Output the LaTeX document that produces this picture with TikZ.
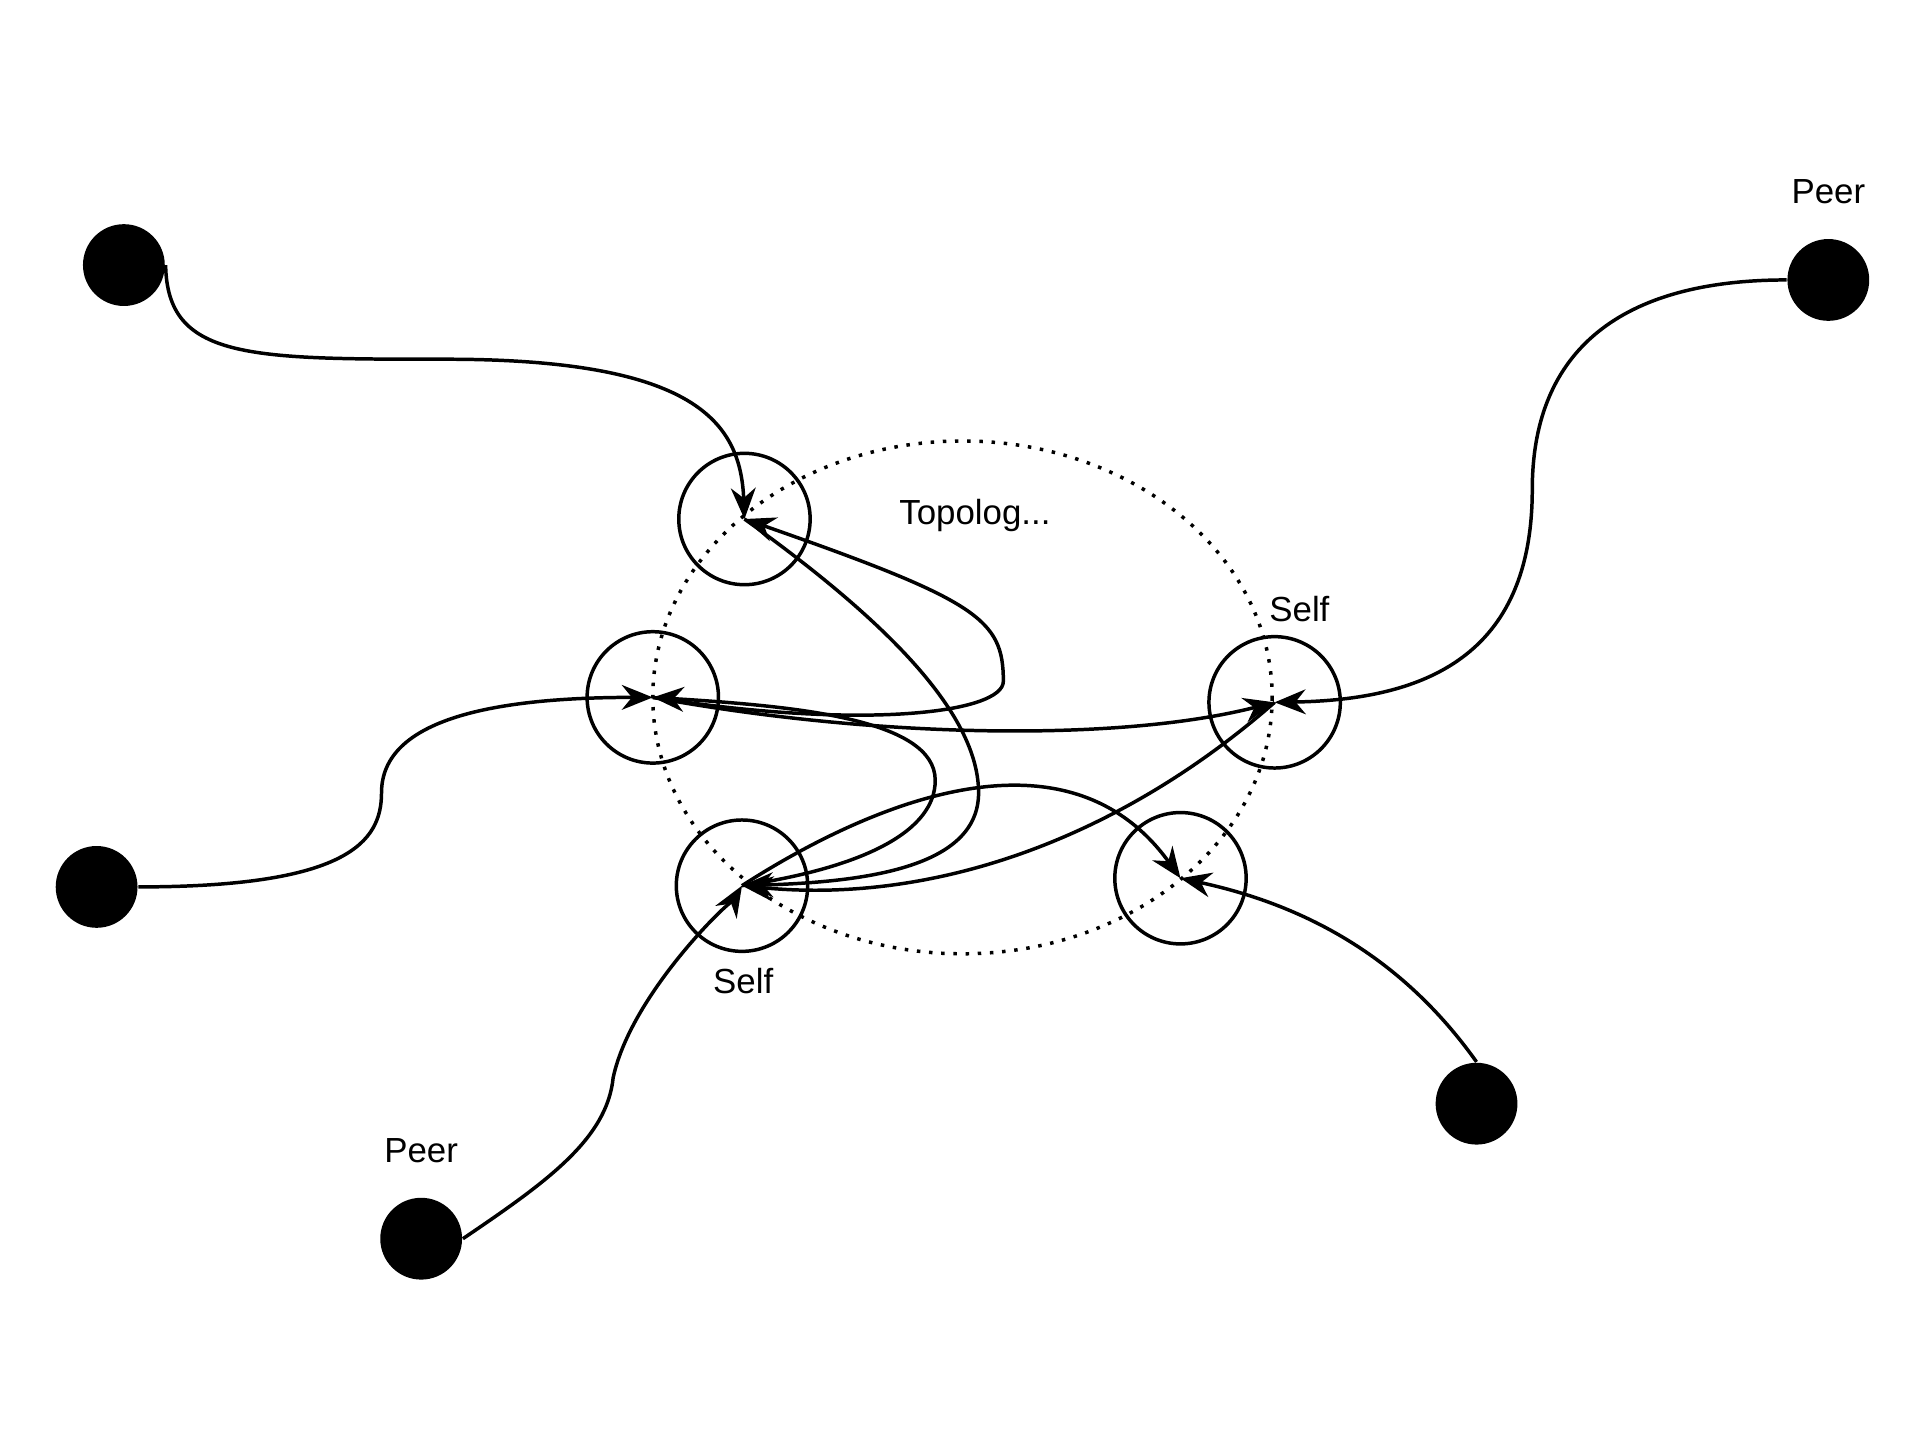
\documentclass[tikz,border=0pt]{standalone}
\usepackage{fontspec}
\setmainfont{Liberation Sans}
\usetikzlibrary{arrows.meta,positioning}
\tikzset{%
	peer/.style  = {circle, fill=black, minimum size=0.66cm, inner sep=0pt},
	topo/.style  = {circle, draw, thick, minimum size=1.06cm, inner sep=0pt},
	link/.style  = {thick, -{Stealth[length=2.5mm,width=2mm]}},
	lbl/.style   = {font=\fontsize{8}{10}\selectfont},
}
\begin{document}
\begin{tikzpicture}[x=0.01cm,y=-0.01cm]
	\useasboundingbox (0,0) rectangle (1550,1164);
	
	% topology area
	\draw[dotted, thick] (777,563) ellipse [x radius=250, y radius=207];
	\node[lbl] (topo) at (787,416) {Topolog...};
	
	% peers
	\node[peer] (pa) at (100,214) {};
	\node[peer] (pb) at (1476,226) {};
	\node[peer] (pc) at (78,716) {};
	\node[peer] (pd) at (340,1000) {};
	\node[peer] (pe) at (1192,891) {};
	\node[lbl, above=0.15cm of pb] (pblbl) {Peer};
	\node[lbl, above=0.15cm of pd] (pdlbl) {Peer};
	
	% topology nodes
	\node[topo] (t1) at (601,419) {};
	\node[topo] (t2) at (527,563) {};
	\node[topo] (t3) at (1029,567) {};
	\node[topo] (t4) at (599,715) {};
	\node[topo] (t5) at (953,709) {};
	\node[lbl] (t3lbl) at (1049,492) {Self};
	\node[lbl] (t4lbl) at (600,792) {Self};
	
	% peer links
	\draw[link] (pa.east) .. controls (135,290) and (200,290) .. (360,290) .. controls (560,290) and (598,340) .. (t1.center);
	\draw[link] (pb.west) .. controls (1300,226) and (1237,290) .. (1237,395) .. controls (1237,530) and (1150,565) .. (t3.center);
	\draw[link] (pc.east) .. controls (280,716) and (308,680) .. (308,640) .. controls (308,580) and (400,563) .. (t2.center);
	\draw[link] (pd.east) .. controls (440,955) and (490,920) .. (495,870) .. controls (510,800) and (596,720) .. (t4.center);
	\draw[link] (pe.north) .. controls (1130,770) and (1050,730) .. (t5.center);
	
	% topology links
	\draw[link] (t2.center) .. controls (700,590) and (810,575) .. (810,550) .. controls (810,500) and (790,485) .. (t1.center);
	\draw[link] (t1.center) .. controls (700,490) and (790,570) .. (790,640) .. controls (790,700) and (700,712) .. (t4.center);
	\draw[link] (t4.center) .. controls (700,700) and (755,670) .. (755,630) .. controls (755,580) and (640,570) .. (t2.center);
	\draw[link] (t2.center) .. controls (700,595) and (900,600) .. (t3.center);
	\draw[link] (t3.center) .. controls (900,680) and (750,730) .. (t4.center);
	\draw[link] (t4.center) .. controls (700,650) and (860,580) .. (t5.center);
	
\end{tikzpicture}
\end{document}
